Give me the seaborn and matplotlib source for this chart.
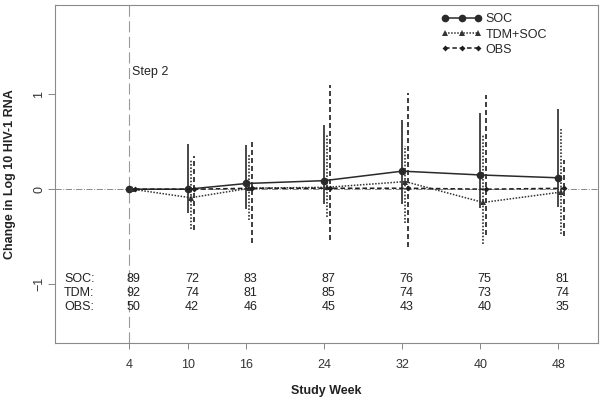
import numpy as np
import pandas as pd
import seaborn as sns
import matplotlib.pyplot as plt

# data
weeks = [4, 10, 16, 24, 32, 40, 48]
soc_mean = [0.0, 0.00, 0.06, 0.09, 0.19, 0.15, 0.12]
soc_lo = [0.0, -0.25, -0.21, -0.16, -0.16, -0.20, -0.19]
soc_hi = [0.0, 0.48, 0.47, 0.68, 0.73, 0.80, 0.84]
tdm_mean = [0.0, -0.09, 0.01, 0.02, 0.08, -0.14, -0.03]
tdm_lo = [0.0, -0.42, -0.32, -0.29, -0.36, -0.58, -0.47]
tdm_hi = [0.0, 0.31, 0.36, 0.58, 0.45, 0.57, 0.64]
obs_mean = [0.0, 0.00, 0.01, 0.01, 0.01, 0.00, 0.01]
obs_lo = [0.0, -0.43, -0.57, -0.53, -0.61, -0.48, -0.49]
obs_hi = [0.0, 0.35, 0.52, 1.10, 1.01, 0.99, 0.31]
n_soc = [89, 72, 83, 87, 76, 75, 81]
n_tdm = [92, 74, 81, 85, 74, 73, 74]
n_obs = [50, 42, 46, 45, 43, 40, 35]
labels = ['SOC', 'TDM+SOC', 'OBS']

sns.set_style('white')
plt.rcParams['font.family'] = ['Liberation Sans', 'DejaVu Sans']

fig = plt.figure(figsize=(6.03, 4.04), dpi=100)
ax = fig.add_axes([0.0912, 0.151, 0.9005, 0.8366])

# reference lines
ax.axhline(0, color='#8a8a8a', lw=0.7, ls='-.', zorder=1)
ax.axvline(4, color='#9a9a9a', lw=0.8, ls=(0, (10, 4)), zorder=1)

series = [
    (soc_mean, soc_lo, soc_hi, 0.0, '-', 'o', 5.5, '#2a2a2a'),
    (tdm_mean, tdm_lo, tdm_hi, 0.3, (0, (1, 1)), '^', 4.2, '#333333'),
    (obs_mean, obs_lo, obs_hi, 0.6, (0, (3, 1.8)), 'D', 3.0, '#1e1e1e'),
]

for (m, lo, hi, off, ls, mk, ms, col), lab in zip(series, labels):
    df = pd.DataFrame({'x': np.array(weeks) + off, 'y': m, 'lo': lo, 'hi': hi})
    ax.vlines(df['x'], df['lo'], df['hi'], colors=col, linestyles=ls, lw=1.2, zorder=2)
    sns.lineplot(data=df, x='x', y='y', ax=ax, color=col, linestyle=ls, lw=1.1,
                 marker=mk, markersize=ms, markeredgewidth=0, label=lab, zorder=3)

h, l = ax.get_legend_handles_labels()
ax.legend(h, l, loc='upper left', bbox_to_anchor=(0.712, 0.975), frameon=False,
          numpoints=3, handlelength=3.2, handletextpad=0.3, labelspacing=0.25,
          borderpad=0, borderaxespad=0, fontsize=9)

# sample size table
rows = [('SOC:', n_soc, -0.945), ('TDM:', n_tdm, -1.09), ('OBS:', n_obs, -1.24)]
for name, counts, yy in rows:
    ax.text(-2.7, yy, name, ha='left', va='center', fontsize=9, color='#222222')
    for w, c in zip(weeks, counts):
        ax.text(w + 0.45, yy, str(c), ha='center', va='center', fontsize=9, color='#222222')

ax.text(4.3, 1.23, 'Step 2', ha='left', va='center', fontsize=9, color='#222222')

ax.set_xlim(-3.62, 52.07)
ax.set_ylim(-1.62, 1.94)
ax.set_xticks(weeks)
ax.set_xticklabels([str(w) for w in weeks])
ax.set_yticks([-1, 0, 1])
ax.set_yticklabels(['\u22121', '0', '1'], rotation=90, va='center')

ax.tick_params(axis='x', length=4.5, width=0.7, pad=7, colors='#888888',
               labelcolor='#333333', labelsize=9, direction='out', bottom=True)
ax.tick_params(axis='y', length=5, width=0.7, pad=2, colors='#888888',
               labelcolor='#333333', labelsize=9, direction='out', left=True)

for s in ax.spines.values():
    s.set_color('#8a8a8a')
    s.set_linewidth(0.8)

ax.set_xlabel('Study Week', fontsize=9, fontweight='bold', color='#222222')
ax.set_ylabel('Change in Log 10 HIV-1 RNA', fontsize=9, fontweight='bold', color='#222222')
ax.xaxis.set_label_coords(0.5, -0.125)
ax.yaxis.set_label_coords(-0.072, 0.5)

fig.savefig('out.png', dpi=100)
